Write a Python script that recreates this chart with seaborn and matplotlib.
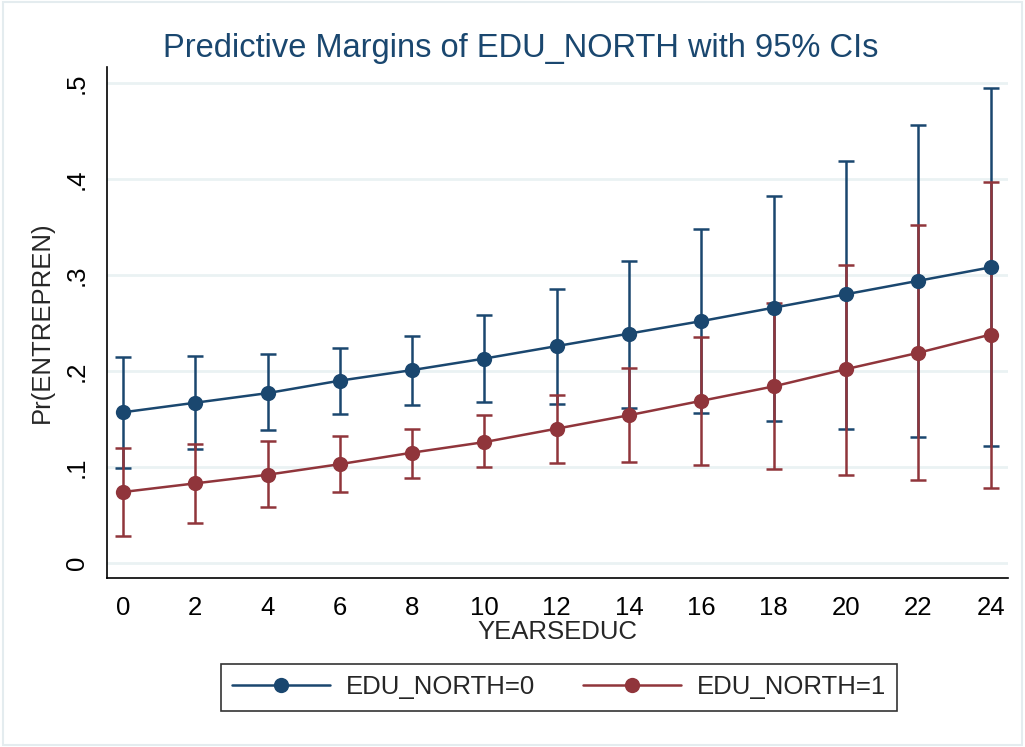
import matplotlib
matplotlib.use("Agg")
import matplotlib.pyplot as plt
import seaborn as sns
import pandas as pd
from matplotlib.patches import Rectangle

# values
years = [0, 2, 4, 6, 8, 10, 12, 14, 16, 18, 20, 22, 24]

north0_mean = [0.157, 0.167, 0.177, 0.190, 0.201, 0.213, 0.226, 0.239, 0.252, 0.266, 0.280, 0.294, 0.308]
north0_lo = [0.099, 0.119, 0.139, 0.155, 0.165, 0.168, 0.166, 0.162, 0.156, 0.148, 0.140, 0.131, 0.122]
north0_hi = [0.215, 0.216, 0.218, 0.224, 0.237, 0.258, 0.285, 0.315, 0.348, 0.382, 0.419, 0.456, 0.495]

north1_mean = [0.074, 0.083, 0.092, 0.103, 0.115, 0.126, 0.140, 0.154, 0.169, 0.184, 0.202, 0.219, 0.238]
north1_lo = [0.028, 0.042, 0.058, 0.074, 0.089, 0.100, 0.104, 0.105, 0.102, 0.098, 0.092, 0.086, 0.078]
north1_hi = [0.120, 0.124, 0.127, 0.132, 0.140, 0.154, 0.175, 0.203, 0.235, 0.271, 0.310, 0.352, 0.397]

group_labels = ["EDU_NORTH=0", "EDU_NORTH=1"]
colors = ["#1a476f", "#90353b"]

ytick_vals = [0, 0.1, 0.2, 0.3, 0.4, 0.5]
ytick_labels = ["0", ".1", ".2", ".3", ".4", ".5"]

df = pd.concat([
    pd.DataFrame({"YEARSEDUC": years, "pr": north0_mean, "lo": north0_lo, "hi": north0_hi, "grp": group_labels[0]}),
    pd.DataFrame({"YEARSEDUC": years, "pr": north1_mean, "lo": north1_lo, "hi": north1_hi, "grp": group_labels[1]}),
])

sns.set_style("white")
plt.rcParams["font.family"] = ["Liberation Sans", "DejaVu Sans"]

fig = plt.figure(figsize=(10.25, 7.47), dpi=100)
ax = fig.add_axes([0.1044, 0.2262, 0.8786, 0.6841])

for grp, col in zip(group_labels, colors):
    d = df[df["grp"] == grp]
    ax.errorbar(d["YEARSEDUC"], d["pr"], yerr=[d["pr"] - d["lo"], d["hi"] - d["pr"]],
                fmt="none", ecolor=col, elinewidth=1.8, capsize=5.5, capthick=1.8, zorder=3)
    sns.lineplot(data=d, x="YEARSEDUC", y="pr", color=col, linewidth=1.8, marker="o",
                 markersize=11, markeredgewidth=0, ax=ax, label=grp, zorder=4)

ax.set_xlim(-0.44, 24.47)
ax.set_ylim(-0.0156, 0.5167)
ax.set_xticks(years)
ax.set_yticks(ytick_vals)
ax.set_yticklabels(ytick_labels, rotation=90, va="center")
ax.tick_params(axis="both", direction="out", length=8, width=1.2, labelsize=18.5, colors="black", pad=5)
ax.yaxis.grid(True, color="#eaf2f3", linewidth=2)
ax.xaxis.grid(False)
for s in ["top", "right"]:
    ax.spines[s].set_visible(False)
for s in ["left", "bottom"]:
    ax.spines[s].set_color("black")
    ax.spines[s].set_linewidth(1.2)

ax.set_xlabel("YEARSEDUC", fontsize=18.5, labelpad=0)
ax.set_ylabel("Pr(ENTREPREN)", fontsize=18.5, labelpad=8)
fig.text(0.508, 0.924, "Predictive Margins of EDU_NORTH with 95% CIs", fontsize=23.5,
         color="#1a476f", ha="center", va="baseline")

handles, labels = ax.get_legend_handles_labels()
ax.get_legend().remove()
leg = fig.legend(handles, labels, loc="center", bbox_to_anchor=(0.5454, 0.0797), ncol=2,
                 fontsize=18.5, frameon=True, fancybox=False, handlelength=3.8,
                 handletextpad=0.6, columnspacing=1.9, borderpad=0.45, borderaxespad=0)
leg.get_frame().set_edgecolor("black")
leg.get_frame().set_linewidth(1.2)

fig.patches.append(Rectangle((0.003, 0.003), 0.994, 0.994, transform=fig.transFigure,
                             fill=False, edgecolor="#e4ecef", linewidth=1.5))

fig.savefig("out.png", dpi=100)
